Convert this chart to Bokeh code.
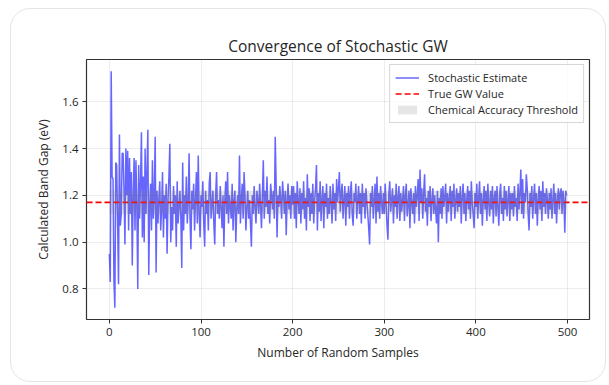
from bokeh.plotting import figure
from bokeh.models import FixedTicker, Range1d, Legend, LegendItem
from bokeh.embed import file_html
from bokeh.resources import INLINE

# ---- data ----
estimates = [
    0.95, 0.83, 1.73, 1.28, 1.27, 0.83, 0.72, 1.34, 1.33, 1.08, 0.82, 1.46, 1.07, 1.12, 1.38, 1.38, 1.22, 0.99, 1.40, 1.20,
    1.39, 1.05, 1.36, 1.12, 1.30, 0.90, 1.20, 1.36, 1.05, 1.35, 1.15, 0.80, 1.33, 1.10, 1.25, 1.47, 1.02, 1.28, 1.00, 1.40,
    1.12, 1.30, 1.48, 0.86, 1.15, 1.25, 1.05, 1.35, 1.10, 1.20, 1.45, 0.87, 1.22, 1.08, 1.18, 1.26, 1.05, 1.14, 1.30, 1.02,
    1.20, 1.10, 1.25, 0.95, 1.18, 1.28, 1.42, 1.00, 1.15, 1.05, 1.24, 1.12, 1.20, 0.98, 1.26, 1.08, 1.15, 1.22, 1.10, 0.89,
    1.34, 1.05, 1.20, 1.12, 1.28, 1.08, 1.17, 1.38, 1.10, 0.97, 1.22, 1.14, 1.25, 1.05, 1.18, 1.30, 1.08, 1.37, 1.12, 1.02,
    1.20, 1.15, 1.26, 1.08, 0.98, 1.22, 1.12, 1.18, 1.05, 1.25, 1.30, 1.10, 1.16, 1.22, 1.08, 0.99, 1.20, 1.30, 1.12, 1.18,
    1.10, 1.24, 1.15, 1.06, 1.20, 0.98, 1.18, 1.26, 1.12, 1.30, 1.08, 1.20, 1.15, 1.10, 1.25, 1.05, 1.18, 1.22, 1.00, 1.14,
    1.20, 1.12, 1.37, 1.08, 1.18, 1.25, 1.10, 1.30, 1.20, 1.05, 1.15, 1.22, 1.10, 1.18, 1.08, 0.98, 1.20, 1.12, 1.24, 1.15,
    1.08, 1.22, 1.18, 1.12, 1.25, 1.15, 1.06, 1.20, 1.35, 1.10, 1.22, 1.15, 1.28, 1.12, 1.18, 1.08, 1.25, 1.20, 1.14, 1.22,
    1.10, 1.45, 1.25, 1.02, 1.20, 1.15, 1.24, 1.18, 1.10, 1.26, 1.20, 1.12, 1.22, 1.03, 1.18, 1.25, 1.14, 1.20, 1.10, 1.24,
    1.16, 1.24, 1.10, 1.21, 1.06, 1.26, 1.18, 1.12, 1.23, 1.08, 1.21, 1.14, 1.26, 1.10, 1.19, 1.05, 1.29, 1.15, 1.23, 1.09,
    1.21, 1.12, 1.25, 1.08, 1.18, 1.23, 1.33, 1.05, 1.21, 1.13, 1.26, 1.09, 1.18, 1.24, 1.06, 1.21, 1.15, 1.25, 1.10, 1.19,
    1.12, 1.24, 1.17, 1.08, 1.25, 1.14, 1.21, 1.09, 1.27, 1.17, 1.23, 1.30, 1.13, 1.21, 1.25, 1.10, 1.18, 1.24, 1.07, 1.21,
    1.15, 1.24, 1.10, 1.21, 1.26, 1.12, 1.07, 1.21, 1.17, 1.25, 1.10, 1.18, 1.24, 1.12, 1.21, 1.08, 1.25, 1.15, 1.21, 1.10,
    1.23, 1.17, 1.12, 1.06, 0.99, 1.21, 1.15, 1.24, 1.10, 1.18, 1.25, 1.08, 1.28, 1.13, 1.21, 1.10, 1.24, 1.17, 1.12, 1.21,
    1.12, 1.25, 1.16, 1.07, 1.01, 1.21, 1.26, 1.13, 1.18, 1.23, 1.08, 1.20, 1.15, 1.25, 1.10, 1.19, 1.24, 1.09, 1.21, 1.13,
    1.18, 1.24, 1.09, 1.20, 1.25, 1.11, 1.16, 1.22, 1.06, 1.23, 1.17, 1.12, 1.21, 1.08, 1.24, 1.15, 1.20, 1.27, 1.09, 1.31,
    1.17, 1.23, 1.10, 1.21, 1.29, 1.13, 1.19, 1.07, 1.22, 1.15, 1.24, 1.09, 1.18, 1.23, 1.12, 1.20, 1.14, 1.08, 1.22, 1.00,
    1.19, 1.12, 1.23, 1.10, 1.24, 1.15, 1.19, 1.25, 1.08, 1.21, 1.13, 1.19, 1.24, 1.09, 1.22, 1.15, 1.25, 1.10, 1.18, 1.23,
    1.13, 1.21, 1.15, 1.24, 1.08, 1.19, 1.25, 1.12, 1.21, 1.09, 1.18, 1.24, 1.14, 1.22, 1.10, 1.26, 1.17, 1.12, 1.06, 1.21,
    1.15, 1.25, 1.10, 1.19, 1.26, 1.12, 1.21, 1.07, 1.18, 1.24, 1.14, 1.22, 1.09, 1.25, 1.17, 1.11, 1.22, 1.14, 1.24, 1.08,
    1.19, 1.22, 1.11, 1.24, 1.15, 1.07, 1.21, 1.25, 1.12, 1.19, 1.09, 1.24, 1.14, 1.22, 1.11, 1.18, 1.24, 1.09, 1.21, 1.14,
    1.21, 1.11, 1.24, 1.15, 1.19, 1.09, 1.25, 1.14, 1.21, 1.31, 1.12, 1.27, 1.10, 1.21, 1.17, 1.29, 1.23, 1.12, 1.05, 1.21,
    1.15, 1.24, 1.10, 1.19, 1.25, 1.12, 1.21, 1.07, 1.18, 1.24, 1.14, 1.22, 1.09, 1.26, 1.15, 1.21, 1.12, 1.23, 1.18, 1.10,
    1.21, 1.14, 1.23, 1.10, 1.18, 1.25, 1.12, 1.21, 1.08, 1.18, 1.23, 1.14, 1.21, 1.23, 1.12, 1.22, 1.18, 1.04, 1.22, 1.20,
]
samples = list(range(len(estimates)))
true_gw = 1.17
accuracy_halfwidth = 0.05

x_ticks = [0, 100, 200, 300, 400, 500]
x_tick_labels = ["0", "100", "200", "300", "400", "500"]
y_ticks = [0.8, 1.0, 1.2, 1.4, 1.6]
y_tick_labels = ["0.8", "1.0", "1.2", "1.4", "1.6"]

title_text = "Convergence of Stochastic GW"
x_label = "Number of Random Samples"
y_label = "Calculated Band Gap (eV)"
legend_labels = ["Stochastic Estimate", "True GW Value", "Chemical Accuracy Threshold"]

FONT = "Open Sans"
TEXT = "#262626"

# matplotlib-like 5% margins
xmin, xmax = min(samples), max(samples)
ymin, ymax = min(estimates), max(estimates)
x_lo, x_hi = xmin - 0.05 * (xmax - xmin), xmax + 0.05 * (xmax - xmin)
y_lo, y_hi = ymin - 0.05 * (ymax - ymin), ymax + 0.05 * (ymax - ymin)

p = figure(width=596, height=374, output_backend="svg", toolbar_location=None,
           x_range=Range1d(x_lo, x_hi), y_range=Range1d(y_lo, y_hi),
           min_border_left=75, min_border_right=18, min_border_top=50, min_border_bottom=64)
p.styles = {"position": "absolute", "left": "10px", "top": "8px",
            "border": "1px solid #e4e4e4", "border-radius": "20px"}
p.background_fill_color = "white"
p.border_fill_color = None
p.outline_line_color = "#333333"
p.outline_line_width = 1.2

p.title.text = title_text
p.title.align = "center"
p.title.text_font = FONT
p.title.text_font_size = "15.5px"
p.title.text_font_style = "normal"
p.title.text_color = TEXT
p.title.standoff = 5

for g in (p.xgrid, p.ygrid):
    g.grid_line_color = "#b0b0b0"
    g.grid_line_alpha = 0.3
    g.grid_line_width = 0.8
p.xgrid.ticker = FixedTicker(ticks=x_ticks)
p.ygrid.ticker = FixedTicker(ticks=y_ticks)

p.xaxis.ticker = FixedTicker(ticks=x_ticks)
p.yaxis.ticker = FixedTicker(ticks=y_ticks)
p.xaxis.major_label_overrides = dict(zip(x_ticks, x_tick_labels))
p.yaxis.major_label_overrides = dict(zip(y_ticks, y_tick_labels))
p.xaxis.axis_label = x_label
p.yaxis.axis_label = y_label
for ax in (p.xaxis, p.yaxis):
    ax.axis_line_color = None
    ax.major_tick_line_color = "#333333"
    ax.major_tick_out = 4
    ax.major_tick_in = 0
    ax.minor_tick_line_color = None
    ax.major_label_text_font = FONT
    ax.major_label_text_font_size = "11.5px"
    ax.major_label_text_color = TEXT
    ax.major_label_standoff = 4
    ax.axis_label_text_font = FONT
    ax.axis_label_text_font_size = "12px"
    ax.axis_label_text_font_style = "normal"
    ax.axis_label_text_color = TEXT
p.xaxis.axis_label_standoff = 5
p.yaxis.axis_label_standoff = 7

r_line = p.line(samples, estimates, line_color="blue", line_alpha=0.6, line_width=1.5)
r_true = p.line([x_lo, x_hi], [true_gw, true_gw], line_color="red", line_dash="6 3", line_width=1.6)
r_band = p.varea(x=[samples[0], samples[-1]],
                 y1=[true_gw - accuracy_halfwidth] * 2,
                 y2=[true_gw + accuracy_halfwidth] * 2,
                 fill_color="gray", fill_alpha=0.2)

legend = Legend(items=[LegendItem(label=legend_labels[0], renderers=[r_line]),
                       LegendItem(label=legend_labels[1], renderers=[r_true]),
                       LegendItem(label=legend_labels[2], renderers=[r_band])],
                location="top_right")
legend.label_text_font = FONT
legend.label_text_font_size = "11px"
legend.label_text_color = TEXT
legend.border_line_color = "#cccccc"
legend.border_line_alpha = 0.8
legend.background_fill_alpha = 0.8
legend.glyph_width = 24
legend.glyph_height = 11
legend.label_height = 11
legend.spacing = 1
legend.padding = 5
legend.margin = 5
legend.label_standoff = 9
p.add_layout(legend)

open("out.html", "w").write(file_html(p, INLINE))
